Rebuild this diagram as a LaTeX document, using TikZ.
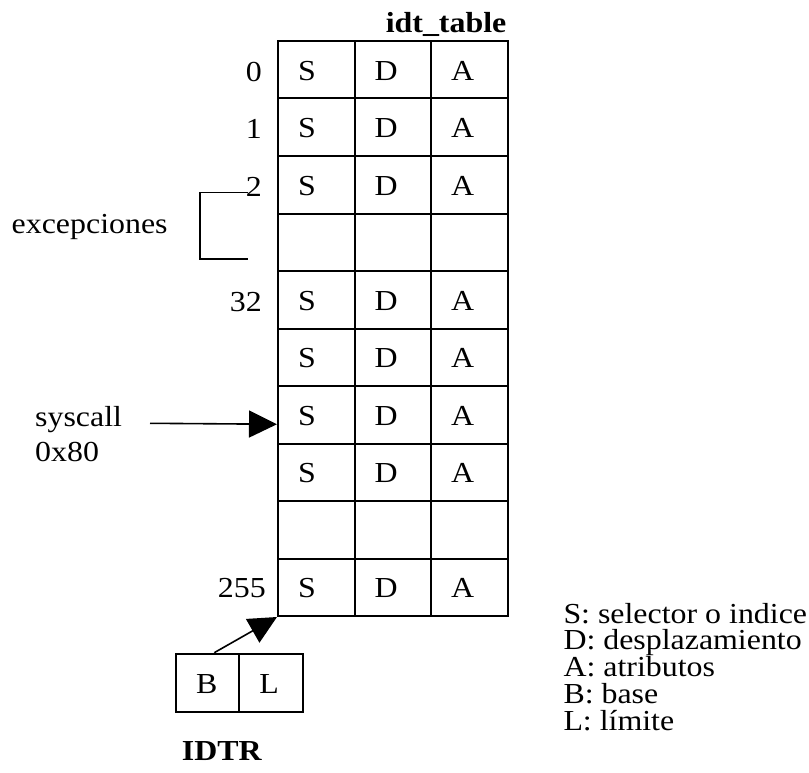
\documentclass[tikz,border=0pt]{standalone}
\usepackage{fontspec}
\setmainfont{Liberation Serif}[FakeStretch=1.1]
\usetikzlibrary{arrows.meta}

\begin{document}
\begin{tikzpicture}[x=1pt,y=-1pt,
  every node/.style={font=\fontsize{29}{35}\selectfont},
  cell/.style={draw, line width=2pt, inner sep=0pt, minimum width=76.5pt,
    minimum height=57.5pt, text width=36.5pt, align=left,
    text height=21pt, text depth=0pt, anchor=north west},
  regcell/.style={draw, line width=2pt, inner sep=0pt, minimum height=58pt,
    text height=21pt, text depth=0pt, align=left, anchor=north west},
  idx/.style={anchor=base east, inner sep=0pt},
  lbl/.style={anchor=base west, inner sep=0pt},
  keyline/.style={lbl, text height=20pt, text depth=6pt},
  title/.style={font=\fontsize{29}{35}\selectfont\bfseries, inner sep=0pt},
  conn/.style={line width=1.6pt, -{Triangle[length=28pt,width=27pt]}},
  brace/.style={line width=1.6pt}
]
\useasboundingbox (0,0) rectangle (809,773);

% the interrupt descriptor table: 10 rows x 3 columns
\foreach \r/\txt in {0/1,1/1,2/1,3/0,4/1,5/1,6/1,7/1,8/0,9/1}{
  \pgfmathsetmacro{\top}{40+57.5*\r}
  \ifnum\txt=1
    \node[cell] (c\r-1) at (277,\top) {S};
    \node[cell] (c\r-2) at (353.5,\top) {D};
    \node[cell] (c\r-3) at (430,\top) {A};
  \else
    \node[cell] (c\r-1) at (277,\top) {};
    \node[cell] (c\r-2) at (353.5,\top) {};
    \node[cell] (c\r-3) at (430,\top) {};
  \fi
}

\node[title, anchor=base east] (tname) at (506.5,33) {idt\_table};

% entry numbers
\node[idx] (i0) at (262,81.5) {0};
\node[idx] (i1) at (262,139) {1};
\node[idx] (i2) at (262,196.5) {2};
\node[idx] (i32) at (262,311.5) {32};
\node[idx] (i255) at (266,597) {255};

% bracket grouping the exceptions
\coordinate (bt) at (248,192.7);
\coordinate (bb) at (248,259);
\draw[brace] (bt) -- (200,192.7) -- (200,259) -- (bb);
\node[lbl] (exc) at (11.5,233.3) {excepciones};

% system call gate
\node[lbl] (sys) at (35,426.7) {syscall};
\node[lbl] (sysnum) at (35,461.7) {0x80};
\coordinate (sysfrom) at (150,423.3);
\draw[conn] (sysfrom) -- ([yshift=-9.5pt]c6-1.west);

% IDTR register
\node[regcell, minimum width=63.3pt, text width=23.3pt] (rb) at (175,652.7) {B};
\node[regcell, minimum width=64pt, text width=24pt] (rl) at (238.3,652.7) {L};
\node[title, anchor=base west] (rname) at (181.7,760) {IDTR};
\draw[conn] ([xshift=6.6pt]rb.north) -- (c9-1.south west);

% legend
\node[keyline] (k1) at (563.3,623.3) {S: selector o indice};
\node[keyline] (k2) at (563.3,649.9) {D: desplazamiento};
\node[keyline] (k3) at (563.3,676.6) {A: atributos};
\node[keyline] (k4) at (563.3,703.3) {B: base};
\node[keyline] (k5) at (563.3,730) {L: límite};
\end{tikzpicture}
\end{document}
